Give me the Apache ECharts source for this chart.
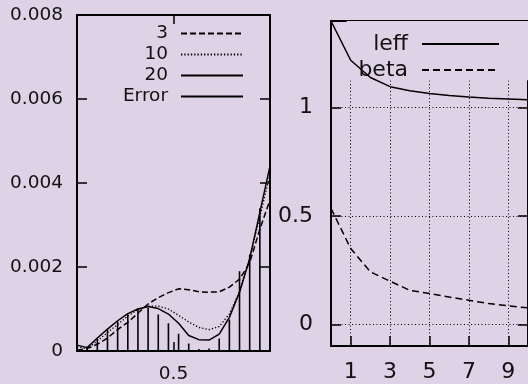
<!DOCTYPE html>
<html><head><meta charset="utf-8">
<script src="https://cdn.jsdelivr.net/npm/echarts@6/dist/echarts.min.js"></script>
<style>html,body{margin:0;padding:0;background:#ded2e6}#c{width:528px;height:384px}</style>
</head><body><div id="c"></div>
<script>
// ---- data (left panel) ----
const xL = [0, 0.0526, 0.1053, 0.1579, 0.2105, 0.2632, 0.3158, 0.3684, 0.4211, 0.4737, 0.5263, 0.5789, 0.6316, 0.6842, 0.7368, 0.7895, 0.8421, 0.8947, 0.9474, 1];
const s3  = [0.00002, 0.00006, 0.00016, 0.00031, 0.00051, 0.00068, 0.0009, 0.00112, 0.00127, 0.00139, 0.00148, 0.00146, 0.00141, 0.0014, 0.00141, 0.00152, 0.00171, 0.0021, 0.0029, 0.0036];
const s10 = [0.0001, 0.00005, 0.00024, 0.00044, 0.00063, 0.00083, 0.00099, 0.00107, 0.00107, 0.001, 0.00085, 0.00069, 0.00056, 0.00051, 0.00058, 0.00088, 0.00142, 0.0022, 0.0032, 0.0042];
const s20 = [0.00014, 0.00008, 0.00031, 0.00052, 0.00072, 0.00089, 0.001, 0.00106, 0.00101, 0.00088, 0.00066, 0.00037, 0.00027, 0.00026, 0.0004, 0.0008, 0.0014, 0.0022, 0.0033, 0.0044];
const errV = [0.0001, 0.0001, 0.00029, 0.0005, 0.0007, 0.00087, 0.00102, 0.00103, 0.00087, 0.00066, 0.00041, 0.00018, 0.00005, 0.00006, 0.0003, 0.00075, 0.0019, 0.0023, 0.0034, 0.0044];
const yTicksL = [0, 0.002, 0.004, 0.006, 0.008];
const xTicksL = [0.5];
const namesL = ['3', '10', '20', 'Error'];
// ---- data (right panel) ----
const xR = [0, 1, 2, 3, 4, 5, 6, 7, 8, 9, 10];
const leff = [1.40, 1.219, 1.139, 1.097, 1.078, 1.065, 1.056, 1.049, 1.044, 1.040, 1.036];
const beta = [0.535, 0.35, 0.242, 0.199, 0.157, 0.142, 0.126, 0.111, 0.096, 0.085, 0.076];
const yTicksR = [0, 0.5, 1];
const xTicksR = [1, 3, 5, 7, 9];
const namesR = ['leff', 'beta'];

const BG = '#ded2e6', F = 'DejaVu Sans', TC = '#111', LC = '#000';
const zip = (xs, ys) => xs.map((x, i) => [x, ys[i]]);
const impulses = [];
xL.forEach((x, i) => { impulses.push([x, 0], [x, errV[i]], [x, null]); });

function ax(o) {
  return {
    type: 'value', gridIndex: o.grid, position: o.pos, min: o.min, max: o.max,
    axisLine: { show: true, onZero: false, lineStyle: { color: LC, width: 2 } },
    axisTick: { show: true, inside: true, length: o.tl, customValues: o.ticks, lineStyle: { color: LC, width: 1.5 } },
    axisLabel: o.label ? { show: true, customValues: o.ticks, margin: o.margin, fontSize: o.fs, fontFamily: F, color: TC } : { show: false },
    splitLine: o.split ? { show: true, lineStyle: { color: LC, width: 1, type: [1, 2.5] } } : { show: false }
  };
}

const chart = echarts.init(document.getElementById('c'), null, { renderer: 'canvas' });
chart.setOption({
  backgroundColor: BG,
  animation: false,
  grid: [
    { left: 77, top: 15, width: 193, height: 340 },
    { left: 331, top: 21, width: 200, height: 325 }
  ],
  xAxis: [
    ax({ grid: 0, pos: 'bottom', min: 0, max: 1, ticks: xTicksL, tl: 9, label: true, margin: 14, fs: 18.5 }),
    ax({ grid: 0, pos: 'top', min: 0, max: 1, ticks: xTicksL, tl: 9, label: false }),
    ax({ grid: 1, pos: 'bottom', min: 0, max: 10, ticks: xTicksR, tl: 10, label: true, margin: 15.5, fs: 22, split: true }),
    ax({ grid: 1, pos: 'top', min: 0, max: 10, ticks: xTicksR, tl: 10, label: false })
  ],
  yAxis: [
    ax({ grid: 0, pos: 'left', min: 0, max: 0.008, ticks: yTicksL, tl: 10, label: true, margin: 14, fs: 18.5 }),
    ax({ grid: 0, pos: 'right', min: 0, max: 0.008, ticks: yTicksL, tl: 10, label: false }),
    ax({ grid: 1, pos: 'left', min: -0.1, max: 1.4, ticks: yTicksR, tl: 10, label: true, margin: 18, fs: 22, split: true }),
    ax({ grid: 1, pos: 'right', min: -0.1, max: 1.4, ticks: yTicksR, tl: 10, label: false })
  ],
  legend: [
    { data: namesL, orient: 'vertical', align: 'right', right: 284, top: 24, padding: 0,
      itemWidth: 62, itemHeight: 20.7, itemGap: 2, selectedMode: false,
      itemStyle: { opacity: 0 },
      textStyle: { fontSize: 18.5, fontFamily: F, color: TC, padding: [0, 8, 0, 0] } },
    { data: namesR, orient: 'vertical', align: 'right', right: 28, top: 33, padding: 0,
      itemWidth: 77, itemHeight: 26, itemGap: 4, selectedMode: false,
      itemStyle: { opacity: 0 },
      textStyle: { fontSize: 22, fontFamily: F, color: TC, padding: [0, 9, 0, 0] } }
  ],
  series: [
    { name: '3', type: 'line', xAxisIndex: 0, yAxisIndex: 0, data: zip(xL, s3), symbol: 'none',
      itemStyle: { color: LC }, lineStyle: { color: LC, width: 1.5, type: [6, 3] } },
    { name: '10', type: 'line', xAxisIndex: 0, yAxisIndex: 0, data: zip(xL, s10), symbol: 'none',
      itemStyle: { color: LC }, lineStyle: { color: LC, width: 1.3, type: [1.3, 2] } },
    { name: '20', type: 'line', xAxisIndex: 0, yAxisIndex: 0, data: zip(xL, s20), symbol: 'none',
      itemStyle: { color: LC }, lineStyle: { color: LC, width: 1.5 } },
    { name: 'Error', type: 'line', xAxisIndex: 0, yAxisIndex: 0, data: impulses, symbol: 'none', connectNulls: false,
      itemStyle: { color: LC }, lineStyle: { color: LC, width: 1.6 } },
    { name: 'leff', type: 'line', xAxisIndex: 2, yAxisIndex: 2, data: zip(xR, leff), symbol: 'none', z: 3,
      itemStyle: { color: LC }, lineStyle: { color: LC, width: 1.5 } },
    { name: 'beta', type: 'line', xAxisIndex: 2, yAxisIndex: 2, data: zip(xR, beta), symbol: 'none', z: 2,
      itemStyle: { color: LC }, lineStyle: { color: LC, width: 1.5, type: [7, 4] },
      markArea: { silent: true, itemStyle: { color: BG, opacity: 1, borderWidth: 0 }, label: { show: false },
        data: [[{ coord: [0.8, 1.126] }, { coord: [10.5, 1.4] }]] } }
  ]
});
</script></body></html>
